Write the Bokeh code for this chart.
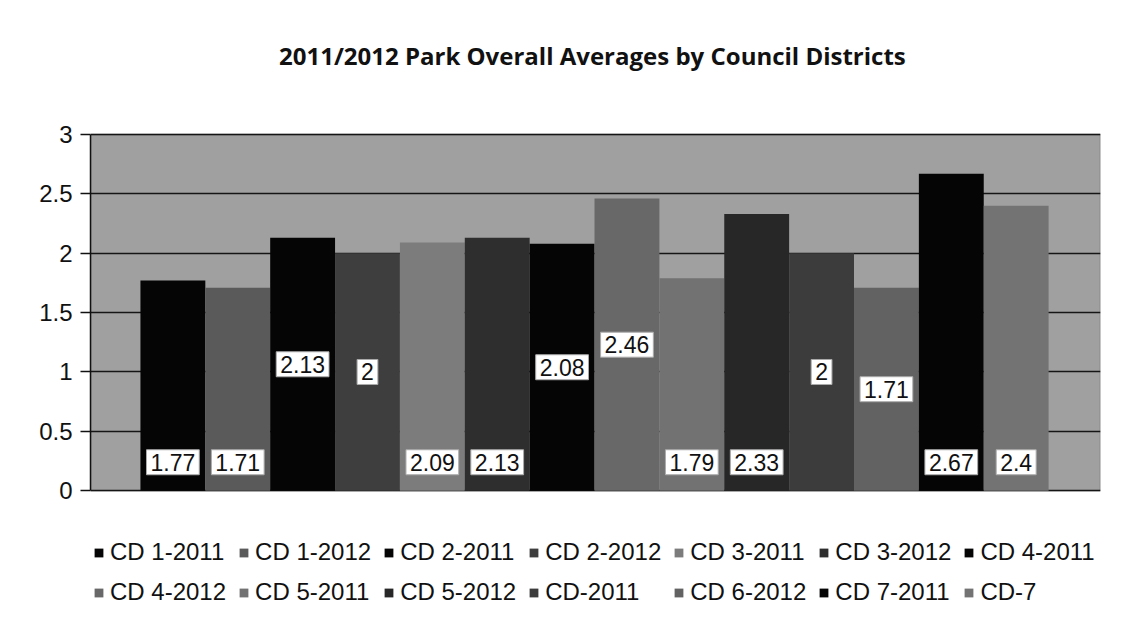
from bokeh.plotting import figure
from bokeh.models import (ColumnDataSource, Range1d, FixedTicker, Legend, LegendItem,
                          BoxAnnotation)
from bokeh.core.properties import value
from bokeh.embed import file_html
from bokeh.resources import INLINE

# ---- data ----
series = ["CD 1-2011", "CD 1-2012", "CD 2-2011", "CD 2-2012", "CD 3-2011", "CD 3-2012", "CD 4-2011",
          "CD 4-2012", "CD 5-2011", "CD 5-2012", "CD-2011", "CD 6-2012", "CD 7-2011", "CD-7"]
values = [1.77, 1.71, 2.13, 2, 2.09, 2.13, 2.08, 2.46, 1.79, 2.33, 2, 1.71, 2.67, 2.4]
y_ticks = [0, 0.5, 1, 1.5, 2, 2.5, 3]
y_tick_labels = ["0", "0.5", "1", "1.5", "2", "2.5", "3"]

# ---- styles ----
colors = ["#050505", "#5a5a5a", "#050505", "#3e3e3e", "#7c7c7c", "#2e2e2e", "#050505",
          "#686868", "#727272", "#272727", "#3c3c3c", "#626262", "#050505", "#737373"]
label_pos = ["base", "base", "center", "center", "base", "base", "center",
             "center", "base", "base", "center", "center", "base", "base"]
BASE_Y = 0.24
Y_MIN, Y_MAX = y_ticks[0], y_ticks[-1]

# The frame reaches down to hold the legend; the gray plot area is drawn from 0 to 3
p = figure(width=1120, height=612, output_backend="svg", toolbar_location=None,
           x_range=Range1d(-1.27, 14.3), y_range=Range1d(-1.025, 3.227),
           x_axis_location=None,
           min_border_left=90, min_border_right=20, min_border_top=0, min_border_bottom=0)

p.background_fill_color = "white"
p.border_fill_color = "white"
p.outline_line_color = None

p.title.text = "2011/2012 Park Overall Averages  by Council Districts"
p.title.text_font = "Open Sans"
p.title.text_font_style = "bold"
p.title.text_font_size = "24px"
p.title.text_color = "#111111"
p.title.align = "center"
p.title.offset = 13
p.title.standoff = 72

area = BoxAnnotation(bottom=Y_MIN, top=Y_MAX, fill_color="#a0a0a0", fill_alpha=1.0,
                     line_color="#111111", line_width=1.5, level="image")
p.add_layout(area)

items = []
for i, (name, v, c) in enumerate(zip(series, values, colors)):
    src = ColumnDataSource(dict(x=[i], top=[v]))
    r = p.vbar(x="x", top="top", width=1.0, bottom=0, source=src,
               fill_color=c, line_color=None)
    items.append(LegendItem(label=name, renderers=[r]))

# data labels
lx = list(range(len(values)))
ly = [v / 2 if m == "center" else BASE_Y for v, m in zip(values, label_pos)]
lt = [("%g" % v) for v in values]
p.text(x=lx, y=ly, text=lt, text_font=value("Liberation Sans"), text_font_size="23px",
       text_color="#111111", text_align="center", text_baseline="middle",
       background_fill_color="white", border_line_color="#aaaaaa", border_line_width=1,
       padding=4)

ax = p.yaxis[0]
ax.ticker = FixedTicker(ticks=y_ticks)
ax.bounds = (Y_MIN, Y_MAX)
ax.major_label_overrides = {t: l for t, l in zip(y_ticks, y_tick_labels)}
ax.major_label_text_font = "Liberation Sans"
ax.major_label_text_font_size = "24px"
ax.major_label_text_color = "#111111"
ax.axis_line_color = "#111111"
ax.axis_line_width = 1.5
ax.major_tick_line_color = "#111111"
ax.major_tick_line_width = 1.5
ax.major_tick_out = 10
ax.major_tick_in = 0
ax.minor_tick_line_color = None
ax.major_label_standoff = 8

p.xgrid.grid_line_color = None
p.ygrid.grid_line_color = "#151515"
p.ygrid.grid_line_width = 1.5
p.ygrid.ticker = FixedTicker(ticks=y_ticks)

legend = Legend(items=items, orientation="horizontal", ncols=7, location=(3, 6),
                label_text_font="Liberation Sans", label_text_font_size="24px",
                label_text_color="#111111", glyph_width=11, glyph_height=11,
                label_height=26, label_width=116, label_standoff=6, spacing=12,
                padding=0, margin=0, border_line_color=None, background_fill_alpha=0)
p.add_layout(legend)

open("out.html", "w").write(file_html(p, INLINE))
